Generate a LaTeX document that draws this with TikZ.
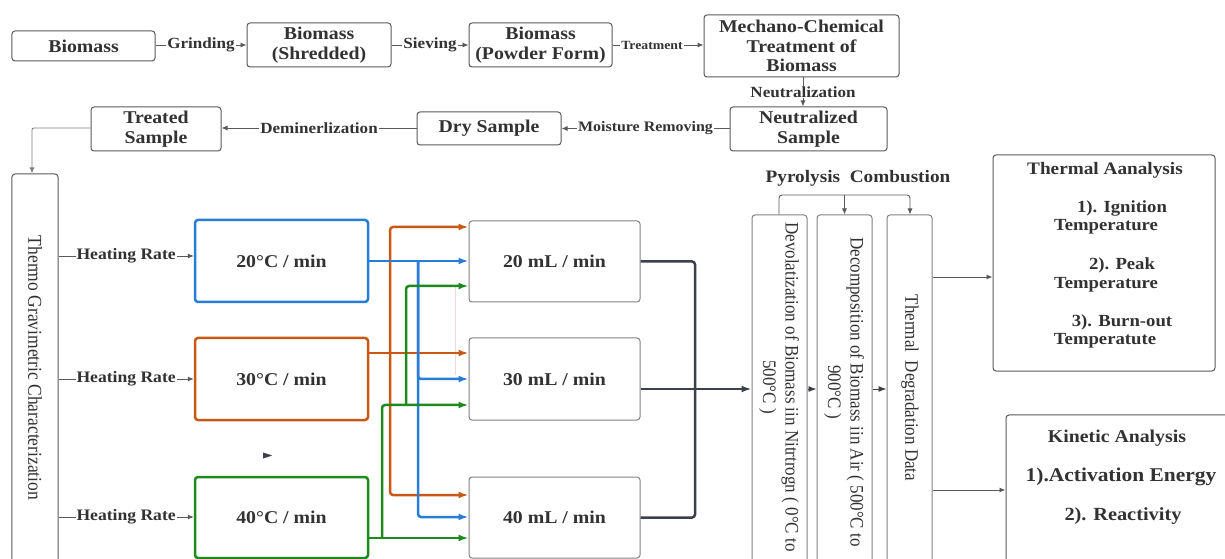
\documentclass[tikz,border=0pt]{standalone}
\usepackage{fontspec}
\setmainfont{Liberation Serif}[FakeStretch=1.1]
\newfontfamily\rotfont{Liberation Serif}
\usetikzlibrary{arrows.meta,calc}
\definecolor{bl}{RGB}{40,125,215}
\definecolor{orn}{RGB}{200,88,20}
\definecolor{grn}{RGB}{30,138,30}
\definecolor{txt}{RGB}{50,50,50}
\definecolor{brd}{RGB}{90,90,90}
\definecolor{lbrd}{RGB}{130,130,130}
\definecolor{dk}{RGB}{60,64,72}
\definecolor{pinkish}{RGB}{245,215,222}
\begin{document}
\begin{tikzpicture}[x=1bp,y=-1bp,
  box/.style={draw=brd, line width=1bp, rounded corners=3bp, inner sep=0pt, align=center, text=txt,
     font=\bfseries\fontsize{18bp}{19.5bp}\selectfont},
  lbox/.style={box, draw=lbrd},
  cbox/.style={box, line width=2.5bp},
  lbl/.style={fill=white, inner sep=1bp, text=txt, font=\bfseries\fontsize{15.5bp}{17bp}\selectfont},
  slbl/.style={lbl, font=\bfseries\fontsize{12.5bp}{14bp}\selectfont},
  hlbl/.style={lbl, font=\bfseries\fontsize{16bp}{17bp}\selectfont},
  rtxt/.style={rotate=-90, yscale=1.12, align=center, text=txt, inner sep=0pt, font=\rotfont\fontsize{17bp}{20bp}\selectfont},
  arr/.style={draw=brd, line width=0.9bp, -{Latex[length=6bp,width=5bp]}},
  cl/.style={line width=2.5bp, rounded corners=3bp, -{Latex[length=10bp,width=7bp]}},
  dkl/.style={draw=dk, line width=2.5bp, rounded corners=3bp},
  tt/.style={text=txt, inner sep=0pt, font=\bfseries\fontsize{17.5bp}{19bp}\selectfont},
  ti/.style={text=txt, inner sep=0pt, font=\bfseries\fontsize{17bp}{19bp}\selectfont},
  ki/.style={text=txt, inner sep=0pt, font=\bfseries\fontsize{18.5bp}{20bp}\selectfont}
]
\useasboundingbox (0,0) rectangle (1225,559);
\clip (0,0) rectangle (1225,559);
\fill[white] (0,0) rectangle (1225,559);

% top rows
\node[box, minimum width=143bp, minimum height=30bp] (b1) at (83.5,46) {Biomass};
\node[box, minimum width=144bp, minimum height=44bp] (b2) at (319,45) {Biomass\\(Shredded)};
\node[box, minimum width=143bp, minimum height=44bp] (b3) at (540.5,45) {Biomass\\(Powder Form)};
\node[box, minimum width=195bp, minimum height=62bp] (b4) at (801.5,46) {Mechano-Chemical\\Treatment of\\Biomass};
\node[box, minimum width=157bp, minimum height=44bp] (b5) at (808.5,129) {Neutralized\\Sample};
\node[box, minimum width=144bp, minimum height=33bp] (b6) at (489,128.5) {Dry Sample};
\node[box, minimum width=130bp, minimum height=44bp] (b7) at (156,129) {Treated\\Sample};

\draw[arr] (b1.east |- 0,45) -- node[lbl] (lg) {Grinding} (b2.west |- 0,45);
\draw[arr] (b2) -- node[lbl] (ls) {Sieving} (b3);
\draw[arr] (b3) -- node[slbl, xshift=-6bp] (lt) {Treatment} (b4.west |- b3);
\draw[arr] (b4.south -| 803,0) -- node[lbl] (ln) {Neutralization} (b5.north -| 803,0);
\draw[arr] (b5.west |- 0,128.5) -- node[lbl, font=\bfseries\fontsize{14.5bp}{16bp}\selectfont] (lm) {Moisture Removing} (b6.east);
\draw[arr] (b6.west |- 0,128) -- node[lbl] (ld) {Deminerlization} (b7.east |- 0,128);

% TGC
\node[box, minimum width=46bp, minimum height=392bp] (tgc) at (35,370) {};
\node[rtxt, font=\rotfont\fontsize{17.5bp}{20bp}\selectfont] (tgct) at (35,368) {Thermo Gravimetric Characterization};
\draw[arr, draw=lbrd, rounded corners=2bp] (b7.west |- 0,128) -| ([xshift=-3bp]tgc.north);

% heating rate boxes
\node[cbox, draw=bl, minimum width=173bp, minimum height=82bp] (r20) at (281.5,261) {20°C / min};
\node[cbox, draw=orn, minimum width=173bp, minimum height=82bp] (r30) at (281.5,379) {30°C / min};
\node[cbox, draw=grn, minimum width=173bp, minimum height=81bp] (r40) at (281.5,517.5) {40°C / min};

\draw[arr] (tgc.east |- 0,256) -- node[hlbl] (h1) {Heating Rate} (r20.west |- 0,256);
\draw[arr] (tgc.east |- 0,379) -- node[hlbl] (h2) {Heating Rate} (r30.west |- 0,379);
\draw[arr] (tgc.east |- 0,517) -- node[hlbl] (h3) {Heating Rate} (r40.west |- 0,517);

% flow boxes
\node[lbox, minimum width=171bp, minimum height=81bp] (m20) at (554.5,261.5) {20 mL / min};
\node[lbox, minimum width=171bp, minimum height=82bp] (m30) at (554.5,379) {30 mL / min};
\node[lbox, minimum width=171bp, minimum height=81bp] (m40) at (554.5,517.5) {40 mL / min};

% faint line
\draw[pinkish, line width=1bp] (455,286) -- (455,375);

% coloured connectors
\draw[cl, orn] (390,353) |- (m20.west |- 0,227);
\draw[cl, orn] (390,353) |- (m40.west |- 0,495);
\draw[cl, orn] (r30.east |- 0,353) -- (m30.west |- 0,353);
\draw[cl, bl] (418,261) |- (m30.west |- 0,379);
\draw[cl, bl] (418,261) |- (m40.west |- 0,517);
\draw[cl, bl] (r20.east |- 0,261) -- (m20.west |- 0,261);
\draw[cl, grn] (382,538) |- (m30.west |- 0,405);
\draw[cl, grn] (406,405) |- (m20.west |- 0,286);
\draw[cl, grn] (r40.east |- 0,538) -- (m40.west |- 0,538);

% stray arrowhead
\fill[dk] (263,452.5) -- (272,455.5) -- (263,458.5) -- cycle;

% vertical boxes
\node[lbox, minimum width=55bp, minimum height=352bp] (dev) at (779.5,391) {};
\node[lbox, minimum width=55bp, minimum height=352bp] (dec) at (844.5,391) {};
\node[lbox, minimum width=45bp, minimum height=352bp] (tdd) at (909.5,391) {};
\node[rtxt] (devt) at (779,387) {Devolatization of Biomass iin Nitrtrogn ( 0°C to\\500°C )};
\node[rtxt] (dect) at (844,392) {Decomposition of Biomass iin Air ( 500°C to\\900°C )};
\node[rtxt] (tddt) at (910,388) {Thermal\ \ Degradation Data};

% dark connectors
\draw[dkl] (m20.east) -| (695,389);
\draw[dkl] (m40.east) -| (695,389);
\draw[dkl, -{Latex[length=10bp,width=7bp]}] (m30.east |- 0,389) -- (dev.west |- 0,389);

\draw[arr, draw=dk, -{Latex[length=8bp,width=6bp]}] (dev.east |- 0,389) -- (dec.west |- 0,389);
\draw[arr, draw=dk, -{Latex[length=8bp,width=6bp]}] (dec.east |- 0,389) -- (tdd.west |- 0,389);

% pyrolysis / combustion
\node[text=txt, inner sep=0pt, font=\bfseries\fontsize{17.5bp}{19bp}\selectfont] (pc) at (858,178) {Pyrolysis\ \ Combustion};
\draw[arr, rounded corners=3bp] (dev.north -| 779,0) |- (910,195) -- (tdd.north -| 910,0);
\draw[arr] (844.5,195) -- (dec.north);

% analysis boxes
\node[box, minimum width=222bp, minimum height=216bp] (ta) at (1104,263) {};
\node[box, minimum width=240bp, minimum height=160bp] (ka) at (1126,495) {};
\draw[arr] (tdd.east |- 0,277) -- (ta.west |- 0,277);
\draw[arr] (tdd.east |- 0,490) -- (ka.west |- 0,490);

\node[tt] (ta0) at (1105,170) {Thermal Aanalysis};
\node[ti] (ta1) at (1122,208) {1). Ignition};
\node[ti] (ta2) at (1106,227) {Temperature};
\node[ti] (ta3) at (1122,265) {2). Peak};
\node[ti] (ta4) at (1106,285) {Temperature};
\node[ti] (ta5) at (1122,322) {3). Burn-out};
\node[ti] (ta6) at (1105,341) {Temperatute};

\node[tt, font=\bfseries\fontsize{18bp}{19bp}\selectfont] (ka0) at (1117,438) {Kinetic Analysis};
\node[ki, font=\bfseries\fontsize{19.5bp}{21bp}\selectfont] (ka1) at (1121,477) {1).Activation Energy};
\node[ki] (ka2) at (1123,516) {2). Reactivity};
\end{tikzpicture}
\end{document}
